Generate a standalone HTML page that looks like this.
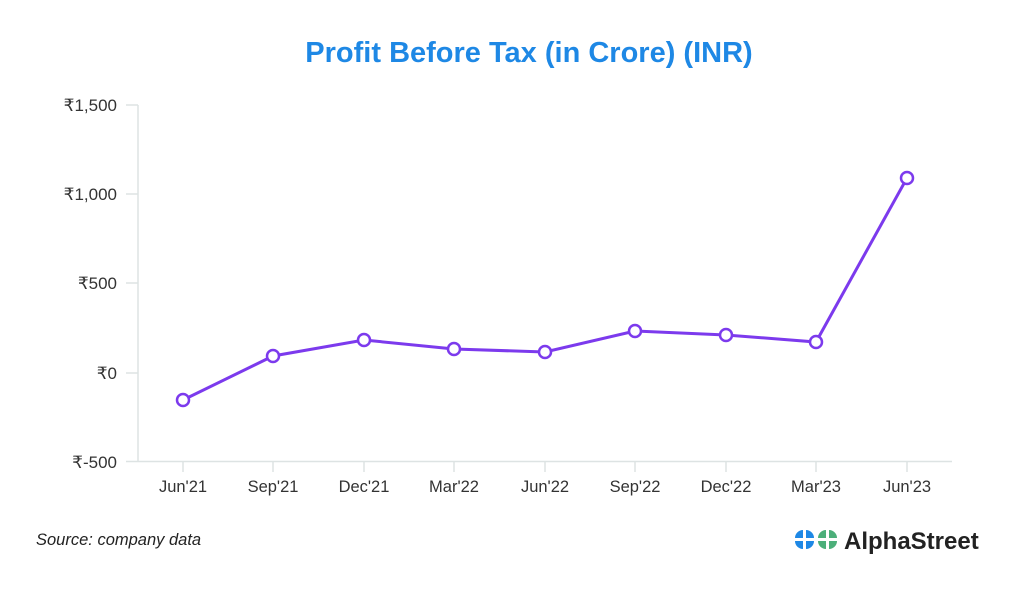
<!DOCTYPE html>
<html><head><meta charset="utf-8"><style>
body{margin:0;background:#fff;width:1024px;height:585px;overflow:hidden;font-family:"Liberation Sans",sans-serif}
</style></head><body>
<svg width="1024" height="585" xmlns="http://www.w3.org/2000/svg" font-family="Liberation Sans, sans-serif">
<text x="529" y="62" text-anchor="middle" font-size="29" font-weight="bold" fill="#1e88e5">Profit Before Tax (in Crore) (INR)</text>
<g stroke="#dde3e3" stroke-width="1.5">
<line x1="138" y1="105" x2="138" y2="462"/>
<line x1="138" y1="461.5" x2="952" y2="461.5"/>
<line x1="126" y1="105" x2="138" y2="105"/>
<line x1="126" y1="194" x2="138" y2="194"/>
<line x1="126" y1="283" x2="138" y2="283"/>
<line x1="126" y1="373" x2="138" y2="373"/>
<line x1="126" y1="461.5" x2="138" y2="461.5"/>
<line x1="183" y1="462" x2="183" y2="472"/><line x1="273" y1="462" x2="273" y2="472"/><line x1="364" y1="462" x2="364" y2="472"/><line x1="454" y1="462" x2="454" y2="472"/><line x1="545" y1="462" x2="545" y2="472"/><line x1="635" y1="462" x2="635" y2="472"/><line x1="726" y1="462" x2="726" y2="472"/><line x1="816" y1="462" x2="816" y2="472"/><line x1="907" y1="462" x2="907" y2="472"/>
</g>
<g font-size="17" fill="#333" text-anchor="end">
<text x="117" y="111">₹1,500</text><text x="117" y="200">₹1,000</text><text x="117" y="289">₹500</text><text x="117" y="379">₹0</text><text x="117" y="468">₹-500</text>
</g>
<g font-size="16.5" fill="#333" text-anchor="middle">
<text x="183" y="492">Jun'21</text><text x="273" y="492">Sep'21</text><text x="364" y="492">Dec'21</text><text x="454" y="492">Mar'22</text><text x="545" y="492">Jun'22</text><text x="635" y="492">Sep'22</text><text x="726" y="492">Dec'22</text><text x="816" y="492">Mar'23</text><text x="907" y="492">Jun'23</text>
</g>
<polyline points="183,400 273,356 364,340 454,349 545,352 635,331 726,335 816,342 907,178" fill="none" stroke="#7c3aed" stroke-width="3"/>
<g fill="#fff" stroke="#7c3aed" stroke-width="2.5">
<circle cx="183" cy="400" r="6"/><circle cx="273" cy="356" r="6"/><circle cx="364" cy="340" r="6"/><circle cx="454" cy="349" r="6"/><circle cx="545" cy="352" r="6"/><circle cx="635" cy="331" r="6"/><circle cx="726" cy="335" r="6"/><circle cx="816" cy="342" r="6"/><circle cx="907" cy="178" r="6"/>
</g>
<text x="36" y="545" font-size="16.5" font-style="italic" fill="#222">Source: company data</text>
<g>
<path d="M795,538 a8,8 0 0 1 8,-8 v8 z" fill="#1e88e5"/>
<path d="M806,530 a8,8 0 0 1 8,8 h-8 z" fill="#1e88e5"/>
<path d="M795,541 h8 v8 a8,8 0 0 1 -8,-8 z" fill="#1e88e5"/>
<path d="M806,541 h8 a8,8 0 0 1 -8,8 z" fill="#1e88e5"/>
<path d="M818,538 a8,8 0 0 1 8,-8 v8 z" fill="#4caf7a"/>
<path d="M829,530 a8,8 0 0 1 8,8 h-8 z" fill="#4caf7a"/>
<path d="M818,541 h8 v8 a8,8 0 0 1 -8,-8 z" fill="#4caf7a"/>
<path d="M829,541 h8 a8,8 0 0 1 -8,8 z" fill="#4caf7a"/>
</g>
<text x="844" y="549" font-size="24" font-weight="bold" fill="#222">AlphaStreet</text>
</svg>
</body></html>
